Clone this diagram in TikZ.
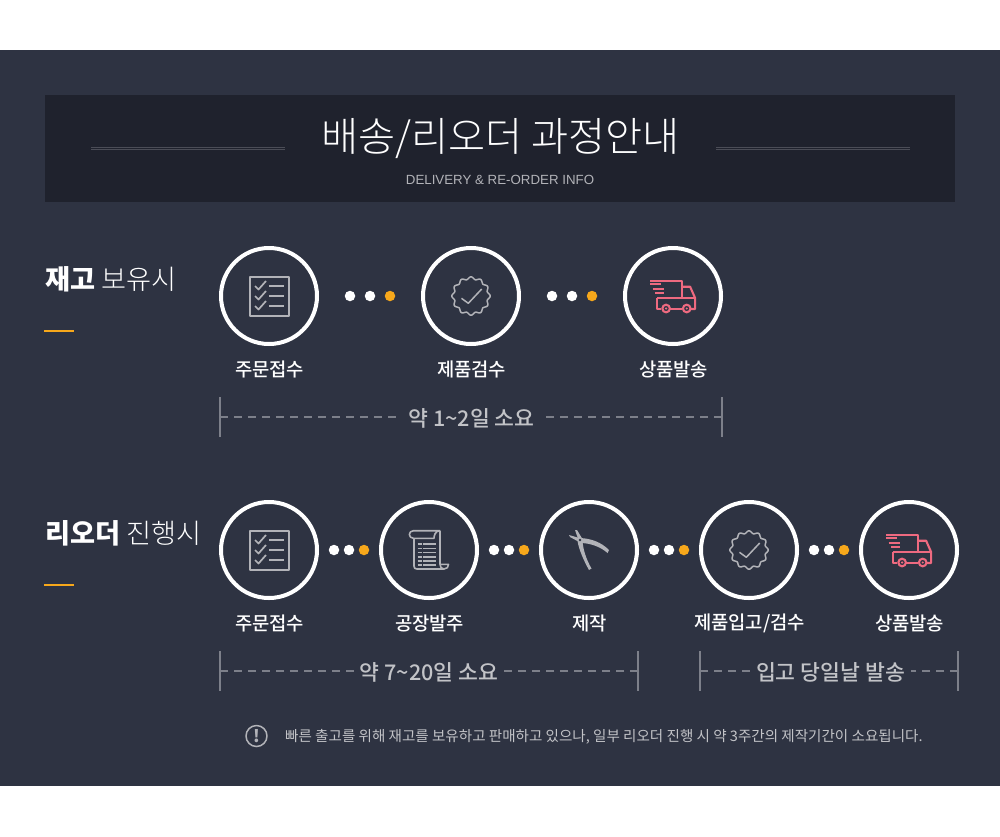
\documentclass[tikz,border=0pt]{standalone}
\usepackage{fontspec}
\setmainfont{Noto Sans CJK KR}
\newfontfamily\krlight{Noto Sans CJK KR Light}
\newfontfamily\krmed{Noto Sans CJK KR Medium}
\newfontfamily\latinfont{Liberation Sans}
\definecolor{panelbg}{HTML}{2E3342}
\definecolor{headbg}{HTML}{1F222D}
\definecolor{rulegray}{HTML}{4B4D57}
\definecolor{iconGray}{HTML}{B2B3B8}
\definecolor{dashGray}{HTML}{7D808A}
\definecolor{txtGray}{HTML}{C2C3C7}
\definecolor{dotOrange}{HTML}{F7A81B}
\definecolor{truckPink}{HTML}{EE6A80}
\tikzset{
	stepring/.style={circle, draw=white, line width=4pt, minimum size=96pt, inner sep=0pt},
	stepname/.style={text=white, font=\krmed\fontsize{18.8}{20}\selectfont},
	spanname/.style={text=txtGray, inner sep=4pt, font=\krmed\fontsize{21.6}{24}\selectfont},
	spanline/.style={dashGray, line width=1.5pt, dash pattern=on 8pt off 6pt},
	spantick/.style={dashGray, line width=1.5pt},
	whitedot/.style={circle, fill=white, minimum size=10.5pt, inner sep=0pt},
	orangedot/.style={circle, fill=dotOrange, minimum size=10.5pt, inner sep=0pt},
	listicon/.pic={
		\draw[iconGray, line width=2pt] (-19.5,-19.5) rectangle (19.5,19.5);
		\foreach \y in {-10,0,10} {
			\draw[iconGray, line width=1.7pt] (-14,\y) -- (-10.5,\y+3.5) -- (-3,\y-5);
			\draw[iconGray, line width=2pt] (0,\y) -- (15,\y);
		}
	},
	badgeicon/.pic={
		\draw[iconGray, line width=1.5pt, samples=145, domain=0:360, smooth, variable=\t]
			plot ({(18+1.2*cos(12*\t))*cos(\t)},{(18+1.2*cos(12*\t))*sin(\t)}) -- cycle;
		\draw[iconGray, line width=1.5pt] (-9.5,2.3) -- (-2.7,7.3) -- (10.7,-7);
	},
	truckicon/.pic={
		\begin{scope}[truckPink, line width=2.1pt, xshift=-0.6pt]
			\draw (-22.4,-15.3) -- (9.7,-15.3) -- (9.7,2);
			\draw (9.7,-9.3) -- (17.7,-9.3) -- (22.7,2) -- (22.7,13) -- (18.3,13);
			\draw (-15.2,2) -- (22.7,2);
			\draw (-11,13) -- (-15.2,13) -- (-15.2,2);
			\draw (-2.3,13) -- (10,13);
			\draw (-22.4,-11.7) -- (-11,-11.7);
			\draw (-19.7,-7) -- (-8.7,-7);
			\draw (-17.3,-2.7) -- (-8.7,-2.7);
			\foreach \x in {-6.3,14.3} {
				\draw (\x,12.5) circle (3.8);
				\fill (\x,12.5) circle (1.2);
			}
		\end{scope}
	},
	scrollicon/.pic={
		\begin{scope}[iconGray, line width=1.6pt, line join=round]
			\draw (-15,-11.7) -- (-15,16) .. controls (-15,18) and (-14,19) .. (-12,19) -- (15,19)
				.. controls (18,19) and (19.5,17) .. (19.5,14.3) -- (11,14.3) -- (11,-19.3);
			\draw (11,-19.3) -- (-15.5,-19.3) .. controls (-21,-19.3) and (-21,-11.7) .. (-15.5,-11.7) -- (5,-11.7)
				.. controls (5,-14) and (6,-19.3) .. (11,-19.3);
			\draw (11,14.3) .. controls (11,17) and (12.5,19) .. (15,19);
			\foreach \y in {-6,-1.7,2.3,6.7,10.7} {
				\draw (-11.3,\y) -- (-7.3,\y);
				\draw (-5.7,\y) -- (7,\y);
			}
			\draw (-11.3,15) -- (-7.3,15) (-5.7,15) -- (7,15);
		\end{scope}
	},
	pliericon/.pic={
		\begin{scope}[iconGray, line join=round]
			\fill (-9,-12) .. controls (2,-11.5) and (12,-8) .. (20,0) -- (18.5,3) .. controls (12,-3) and (2,-6.5) .. (-7,-7) -- cycle;
			\fill (-11.5,-9) .. controls (-10,0) and (-5,11) .. (0,20) -- (2.5,18.5) .. controls (-3,9) and (-6,-1) .. (-6.5,-9) -- cycle;
			\fill (-20,-15) -- (-19,-13) -- (-8,-7) -- (-8,-11.5) -- cycle;
			\fill (-14,-20) -- (-12,-20) -- (-6,-10) -- (-10,-8.5) -- cycle;
			\fill[panelbg] (-9,-10) circle (1.3);
		\end{scope}
	}
}
\begin{document}
\begin{tikzpicture}[x=1pt, y=-1pt, line join=round]
	\useasboundingbox (0,0) rectangle (1000,836);
	\fill[white] (0,0) rectangle (1000,836);
	\fill[panelbg] (0,50) rectangle (1000,786);
	\fill[headbg] (45,95) rectangle (955,202);
	% header
	\node (headtitle) at (500.5,138.5) {\krlight\fontsize{40.3}{44}\selectfont\color{white}배송/리오더 과정안내};
	\node (headsub) at (500,180) {\latinfont\fontsize{13.3}{15}\selectfont\color{iconGray}DELIVERY \& RE-ORDER INFO};
	\foreach \x in {91,716}
	\draw[rulegray, line width=1pt] (\x,147.5) -- ++(194,0) (\x,149.7) -- ++(194,0);
	% first row
	\node[anchor=west, inner sep=0pt] (stocktitle) at (45,279.5) {\fontsize{27.2}{30}\selectfont\color{white}\textbf{재고} {\krlight\fontsize{27.2}{30}\selectfont 보유시}};
	\draw[dotOrange, line width=2pt] (44,330.5) -- (74,330.5);
	\foreach \x/\nm/\ic/\txt in {269/stocka/listicon/주문접수, 471/stockb/badgeicon/제품검수, 673/stockc/truckicon/상품발송} {
		\node[stepring] (\nm) at (\x,296) {};
		\pic at (\nm) {\ic};
		\node[stepname] (\nm text) at (\x+0.6,369.5) {\txt};
	}
	\foreach \x in {350,370,552,572}
	\node[whitedot] (dot\x) at (\x,296) {};
	\foreach \x in {390,592}
	\node[orangedot] (dot\x) at (\x,296) {};
	\node[spanname, inner sep=10.5pt] (stockspan) at (471.5,418) {약 1\textasciitilde 2일 소요};
	\coordinate (stockl) at (220,417);
	\coordinate (stockr) at (722,417);
	\draw[spantick] (220,397) -- (220,437);
	\draw[spantick] (722,397) -- (722,437);
	\draw[spanline] (stockl) -- (stockspan.west |- stockl);
	\draw[spanline] (stockr) -- (stockspan.east |- stockr);
	% second row
	\node[anchor=west, inner sep=0pt] (ordertitle) at (45,533.5) {\fontsize{27.2}{30}\selectfont\color{white}\textbf{리오더} {\krlight\fontsize{27.2}{30}\selectfont 진행시}};
	\draw[dotOrange, line width=2pt] (44,584.5) -- (74,584.5);
	\foreach \x/\nm/\ic in {269/ordera/listicon, 429/orderb/scrollicon, 589/orderc/pliericon, 749/orderd/badgeicon, 909/ordere/truckicon} {
		\node[stepring] (\nm) at (\x,550) {};
		\pic at (\nm) {\ic};
	}
	\foreach \x/\nm/\txt in {269/ordera/주문접수, 429/orderb/공장발주, 589/orderc/제작, 749/orderd/{제품입고/검수}, 909/ordere/상품발송}
	\node[stepname] (\nm text) at (\x+0.6,623.5) {\txt};
	\foreach \x in {334,349,494,509,654,669,814,829}
	\node[whitedot] (dot\x) at (\x,550) {};
	\foreach \x in {364,524,684,844}
	\node[orangedot] (dot\x) at (\x,550) {};
	\node[spanname, inner sep=3pt] (orderspan) at (429,672) {약 7\textasciitilde 20일 소요};
	\coordinate (orderl) at (220,671);
	\coordinate (orderr) at (638,671);
	\draw[spantick] (220,651) -- (220,691);
	\draw[spantick] (638,651) -- (638,691);
	\draw[spanline] (orderl) -- (orderspan.west |- orderl);
	\draw[spanline] (orderr) -- (orderspan.east |- orderr);
	\node[spanname, inner sep=6pt] (shipspan) at (830.5,672) {입고 당일날 발송};
	\coordinate (shipl) at (700,671);
	\coordinate (shipr) at (958,671);
	\draw[spantick] (700,651) -- (700,691);
	\draw[spantick] (958,651) -- (958,691);
	\draw[spanline] (shipl) -- (shipspan.west |- shipl);
	\draw[spanline] (shipr) -- (shipspan.east |- shipr);
	% note
	\node[circle, draw=iconGray, line width=1.5pt, minimum size=21pt, inner sep=0pt, text=iconGray, font=\bfseries\fontsize{17}{17}\selectfont] (noteicon) at (256.5,736) {!};
	\node[anchor=west, inner sep=0pt, text=txtGray, font=\fontsize{14.55}{17}\selectfont] (notetext) at (285,737) {빠른 출고를 위해 재고를 보유하고 판매하고 있으나, 일부 리오더 진행 시 약 3주간의 제작기간이 소요됩니다.};
\end{tikzpicture}
\end{document}
